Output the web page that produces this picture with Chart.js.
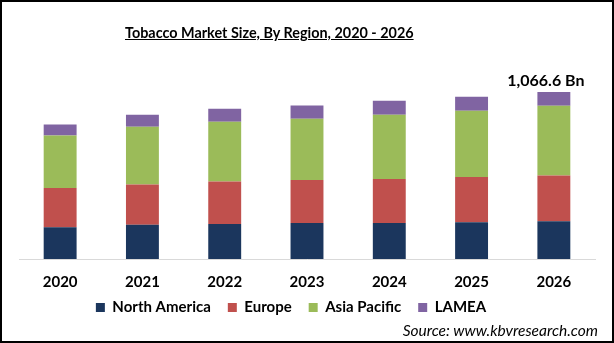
<!DOCTYPE html>
<html>
<head>
<meta charset="utf-8">
<script src="https://cdn.jsdelivr.net/npm/chart.js@4.4.0/dist/chart.umd.min.js"></script>
<style>
  html, body { margin: 0; padding: 0; background: #fff; }
  #wrap { position: relative; width: 614px; height: 343px; overflow: hidden; }
  #frame { position: absolute; left: 0; top: 0; width: 614px; height: 343px;
           box-sizing: border-box; border: 2px solid #000; pointer-events: none; }
  #title { position: absolute; left: 125px; top: 24px; font-family: Lato, sans-serif;
           font-weight: bold; font-size: 14.4px; color: #000; text-decoration: underline;
           white-space: nowrap; }
  #source { position: absolute; right: 16px; top: 321px; font-family: Lato, sans-serif;
            font-style: italic; font-size: 15.5px; color: #000; white-space: nowrap; }
  canvas { position: absolute; left: 0; top: 0; }
</style>
</head>
<body>
<div id="wrap">
  <canvas id="marketChart" width="614" height="343"></canvas>
  <div id="title">Tobacco Market Size, By Region, 2020 - 2026</div>
  <div id="source">Source: www.kbvresearch.com</div>
  <div id="frame"></div>
</div>
<script>
// Market size by region, USD billion
var years = ["2020", "2021", "2022", "2023", "2024", "2025", "2026"];
var regions = ["North America", "Europe", "Asia Pacific", "LAMEA"];
var northAmerica = [203, 218, 224, 229, 229, 235, 241];
var europe       = [250, 258, 271, 275, 281, 288, 292];
var asiaPacific  = [335, 368, 381, 392, 411, 423, 444.6];
var lamea        = [70, 76, 83, 83, 89, 89, 89];
var totalLabel = "1,066.6 Bn";

var colors = ["#1b365d", "#c0504d", "#9bbb59", "#8064a2"];
var series = [northAmerica, europe, asiaPacific, lamea];

// total label above the last stack
var totalPlugin = {
    id: 'totalPlugin',
    afterDatasetsDraw: function (chart) {
        var last = years.length - 1;
        var total = 0;
        series.forEach(function (s) { total += s[last]; });
        var meta = chart.getDatasetMeta(0);
        var x = meta.data[last].x;
        var y = chart.scales.y.getPixelForValue(total);
        var ctx = chart.ctx;
        ctx.save();
        ctx.font = 'bold 16px Lato, sans-serif';
        ctx.fillStyle = '#000';
        ctx.textAlign = 'center';
        ctx.textBaseline = 'bottom';
        ctx.fillText(totalLabel, x - 8, y - 3);
        ctx.restore();
    }
};

// legend sits a little left of centre and tucked up under the year labels
var legendShift = {
    id: 'legendShift',
    afterLayout: function (chart) {
        chart.legend.left -= 16;
        chart.legend.right -= 16;
        chart.legend.top -= 6;
        chart.legend.bottom -= 6;
    }
};

var ctx = document.getElementById('marketChart').getContext('2d');
new Chart(ctx, {
    type: 'bar',
    data: {
        labels: years,
        datasets: regions.map(function (name, i) {
            return {
                label: name,
                data: series[i],
                backgroundColor: colors[i],
                borderWidth: 0,
                barPercentage: 0.4,
                categoryPercentage: 1
            };
        })
    },
    options: {
        responsive: false,
        animation: false,
        layout: { padding: { left: 19, right: 19, top: 71, bottom: 12 } },
        plugins: {
            title: { display: false },
            tooltip: { enabled: false },
            legend: {
                position: 'bottom',
                labels: {
                    boxWidth: 9,
                    boxHeight: 9,
                    padding: 17,
                    color: '#000',
                    font: { family: 'Lato, sans-serif', size: 15, weight: 'bold' }
                }
            }
        },
        scales: {
            x: {
                stacked: true,
                grid: { display: false, drawTicks: false },
                border: { display: true, color: '#d9d9d9', width: 1 },
                ticks: {
                    padding: 14,
                    color: '#000',
                    font: { family: 'Lato, sans-serif', size: 15, weight: 'bold' }
                },
                afterFit: function (scale) { scale.height = 30; }
            },
            y: {
                stacked: true,
                display: false,
                min: 0,
                max: 1200
            }
        }
    },
    plugins: [totalPlugin, legendShift]
});
</script>
</body>
</html>
